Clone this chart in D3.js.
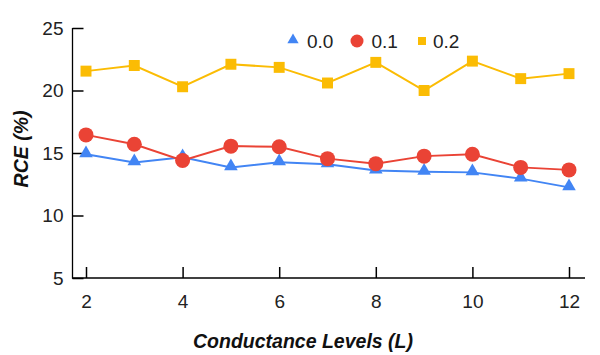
<!DOCTYPE html>
<html>
<head>
<meta charset="utf-8">
<script src="https://cdn.jsdelivr.net/npm/d3@7"></script>
<style>
  body { margin: 0; background: #fff; }
  svg text { font-family: "Liberation Sans", Arial, sans-serif; }
</style>
</head>
<body>
<div id="chart"></div>
<script>
// data
var levels = [2, 3, 4, 5, 6, 7, 8, 9, 10, 11, 12];
var rce00 = [14.9, 14.25, 14.65, 13.85, 14.25, 14.1, 13.6, 13.5, 13.45, 12.95, 12.25];
var rce01 = [16.45, 15.7, 14.4, 15.55, 15.5, 14.55, 14.15, 14.75, 14.9, 13.85, 13.65];
var rce02 = [21.55, 22.0, 20.3, 22.1, 21.85, 20.6, 22.25, 20.0, 22.35, 20.95, 21.35];
var seriesNames = ["0.0", "0.1", "0.2"];
var yTicks = [5, 10, 15, 20, 25];
var xTicks = [2, 4, 6, 8, 10, 12];

var svgWidth = 600;
var svgHeight = 355;

var svg = d3.select("#chart")
  .append("svg")
  .attr("width", svgWidth)
  .attr("height", svgHeight);

var x = d3.scaleLinear().domain([2, 12]).range([86, 569]);
var y = d3.scaleLinear().domain([5, 25]).range([278, 28]);

var colors = ["#4285f4", "#ea4335", "#fbbc04"];
var allSeries = [rce00, rce01, rce02];

// axes
var xAxis = svg.append("g")
  .attr("transform", "translate(0, 278)")
  .call(d3.axisBottom(x).tickValues(xTicks).tickSize(-11).tickSizeOuter(0).tickPadding(17));
xAxis.select(".domain").remove();

var yAxis = svg.append("g")
  .attr("transform", "translate(72.5, 0)")
  .call(d3.axisLeft(y).tickValues(yTicks).tickSize(-11).tickSizeOuter(0).tickPadding(9));
yAxis.select(".domain").remove();

svg.selectAll(".tick line").attr("stroke", "#000").attr("stroke-width", 1.5);
svg.selectAll(".tick text")
  .attr("font-size", 19)
  .attr("fill", "#222");

svg.append("line")
  .attr("x1", 72.5).attr("x2", 72.5)
  .attr("y1", y(25)).attr("y2", 278.5)
  .attr("stroke", "#000").attr("stroke-width", 1.3);
svg.append("line")
  .attr("x1", 72).attr("x2", 585)
  .attr("y1", 278).attr("y2", 278)
  .attr("stroke", "#000").attr("stroke-width", 1.3);

// lines
var line = d3.line()
  .x((d, i) => x(levels[i]))
  .y(d => y(d));

allSeries.forEach(function(vals, k) {
  svg.append("path")
    .datum(vals)
    .attr("d", line)
    .attr("fill", "none")
    .attr("stroke", colors[k])
    .attr("stroke-width", 2);
});

// markers
var triangle = d3.symbol().type(d3.symbolTriangle).size(80);
var square = d3.symbol().type(d3.symbolSquare).size(120);

svg.selectAll(".tri")
  .data(rce00)
  .enter()
  .append("path")
  .attr("class", "tri")
  .attr("d", triangle)
  .attr("transform", (d, i) => `translate(${x(levels[i])}, ${y(d) - 1})`)
  .attr("fill", colors[0]);

svg.selectAll(".dot")
  .data(rce01)
  .enter()
  .append("circle")
  .attr("class", "dot")
  .attr("cx", (d, i) => x(levels[i]))
  .attr("cy", d => y(d))
  .attr("r", 7.5)
  .attr("fill", colors[1]);

svg.selectAll(".sq")
  .data(rce02)
  .enter()
  .append("path")
  .attr("class", "sq")
  .attr("d", square)
  .attr("transform", (d, i) => `translate(${x(levels[i])}, ${y(d)})`)
  .attr("fill", colors[2]);

// legend
var legend = svg.append("g").attr("transform", "translate(0, 41)");
var legX = [293, 357, 422];
var legTextX = [307, 371.5, 433];
legend.append("path")
  .attr("d", d3.symbol().type(d3.symbolTriangle).size(55))
  .attr("transform", `translate(${legX[0]}, -1)`)
  .attr("fill", colors[0]);
legend.append("circle")
  .attr("cx", legX[1]).attr("cy", 0).attr("r", 6.5)
  .attr("fill", colors[1]);
legend.append("rect")
  .attr("x", legX[2] - 4).attr("y", -4)
  .attr("width", 8).attr("height", 8)
  .attr("fill", colors[2]);
seriesNames.forEach(function(name, k) {
  legend.append("text")
    .attr("x", legTextX[k])
    .attr("y", 6.8)
    .attr("font-size", 19)
    .attr("fill", "#222")
    .text(name);
});

// axis titles
svg.append("text")
  .attr("x", 303)
  .attr("y", 348)
  .attr("text-anchor", "middle")
  .attr("font-size", 19.5)
  .attr("font-weight", "bold")
  .attr("font-style", "italic")
  .attr("fill", "#111")
  .text("Conductance Levels (L)");

svg.append("text")
  .attr("transform", "translate(28, 149) rotate(-90)")
  .attr("text-anchor", "middle")
  .attr("font-size", 19.5)
  .attr("font-weight", "bold")
  .attr("font-style", "italic")
  .attr("fill", "#111")
  .text("RCE (%)");
</script>
</body>
</html>
